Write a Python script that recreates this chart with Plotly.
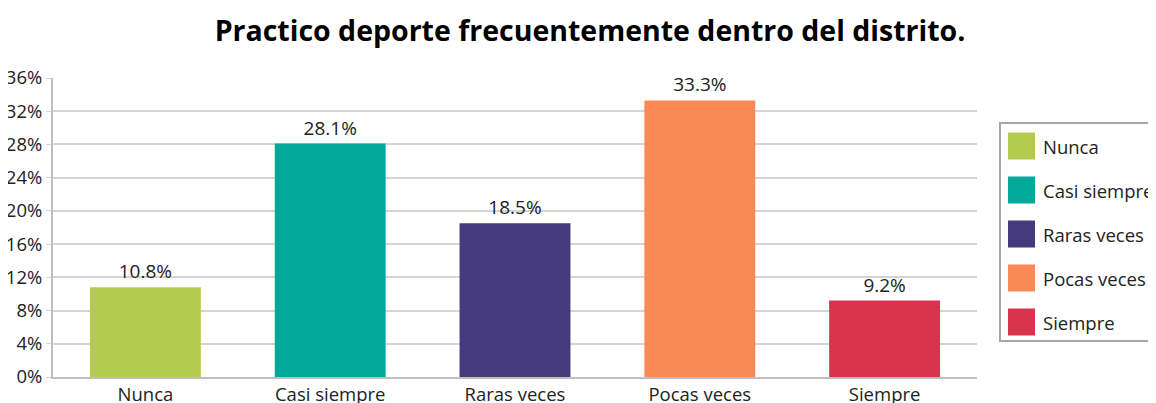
import plotly.graph_objects as go

categories = ["Nunca", "Casi siempre", "Raras veces", "Pocas veces", "Siempre"]
values = [10.8, 28.1, 18.5, 33.3, 9.2]
colors = ["#b5cb4d", "#00a99a", "#443a7c", "#f98a55", "#d9344e"]
y_ticks = [0, 4, 8, 12, 16, 20, 24, 28, 32, 36]
title = "Practico deporte frecuentemente dentro del distrito."

FONT = "Open Sans, DejaVu Sans, sans-serif"

fig = go.Figure()
fig.add_trace(go.Bar(
    x=categories, y=values,
    marker=dict(color=colors, line=dict(width=0)),
    text=[f"{v:.1f}%" for v in values],
    textposition="outside", cliponaxis=False,
    textfont=dict(size=19, color="#222222", family=FONT),
    showlegend=False,
))

# page has an 8px body margin, so figure coordinates = screen - 8
W, H = 1156, 403
l, r, t, b = 45, 187, 70, 34
PW, PH = W - l - r, H - t - b

shapes = []
annotations = []
# custom legend
lx0, ly0, lx1, ly1 = 992, 115, 1170, 333
shapes.append(dict(type="rect", xref="paper", yref="paper",
                   x0=(lx0 - l) / PW, x1=(lx1 - l) / PW,
                   y0=1 - (ly0 - t) / PH, y1=1 - (ly1 - t) / PH,
                   line=dict(color="#a6a6a6", width=2), fillcolor="white", layer="below"))
for i, (c, col) in enumerate(zip(categories, colors)):
    cy = 138 + 44 * i
    shapes.append(dict(type="rect", xref="paper", yref="paper",
                       x0=(1000 - l) / PW, x1=(1027 - l) / PW,
                       y0=1 - (cy - 13.5 - t) / PH, y1=1 - (cy + 13.5 - t) / PH,
                       line=dict(width=0), fillcolor=col))
    annotations.append(dict(xref="paper", yref="paper",
                            x=(1033 - l) / PW, y=1 - (cy - t) / PH,
                            text=c, showarrow=False, xanchor="left", yanchor="middle",
                            font=dict(size=18.5, color="#222222", family=FONT)))

fig.update_layout(
    width=W, height=H,
    margin=dict(l=l, r=r, t=t, b=b, autoexpand=False),
    paper_bgcolor="white", plot_bgcolor="white",
    bargap=0.4,
    title=dict(text=f"<b>{title}</b>", x=582 / W, xref="container", xanchor="center",
               y=1 - 23 / H, yref="container", yanchor="middle",
               font=dict(size=28.5, color="black", family=FONT)),
    font=dict(family=FONT, size=18.5, color="#222222"),
    xaxis=dict(showgrid=False, showline=True, linecolor="#bfbfbf", linewidth=2,
               ticks="", tickfont=dict(size=18.5, color="#222222"), fixedrange=True,
               automargin=False),
    yaxis=dict(range=[0, 36], tickvals=y_ticks, ticktext=[f"{v}%" for v in y_ticks],
               showgrid=True, gridcolor="#d4d4d4", gridwidth=1.5,
               showline=True, linecolor="#bfbfbf", linewidth=2,
               ticks="outside", ticklen=5, tickcolor="#d4d4d4",
               tickfont=dict(size=18.5, color="#222222"), zeroline=False,
               automargin=False),
    shapes=shapes, annotations=annotations,
)

fig.write_html("out.html")
